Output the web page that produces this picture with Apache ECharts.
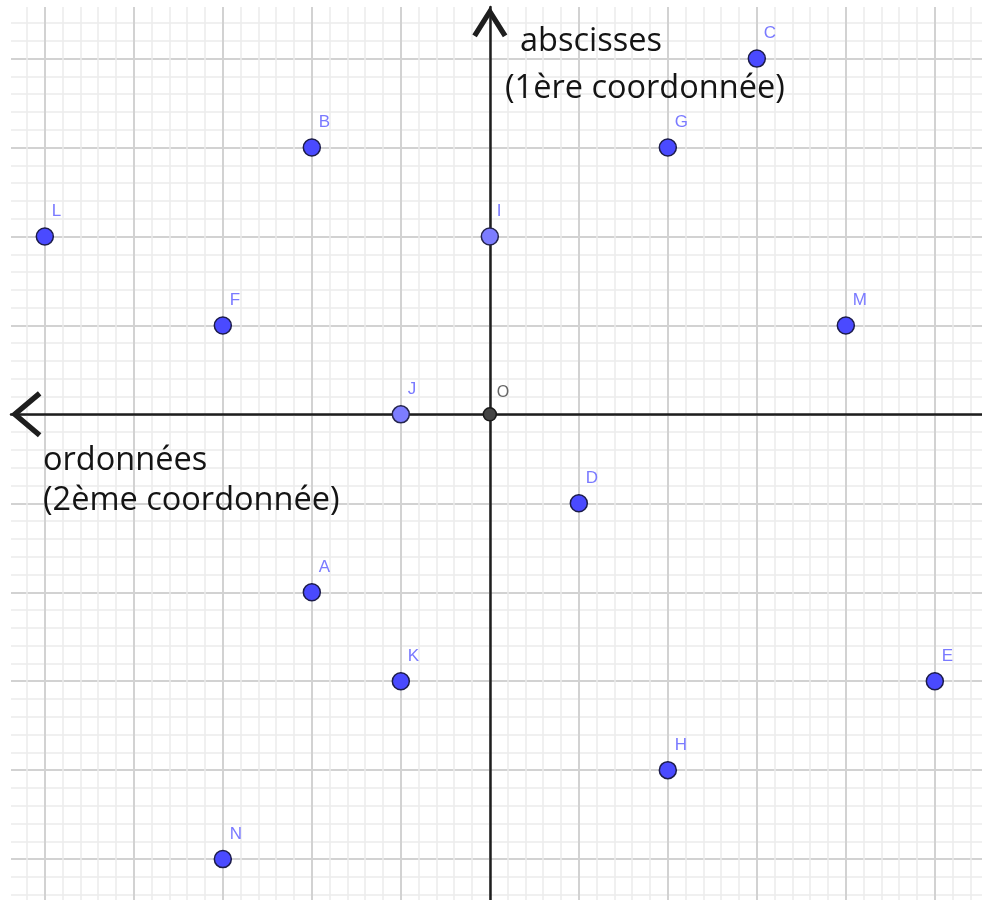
<!DOCTYPE html>
<html>
<head>
<meta charset="utf-8">
<script src="https://cdn.jsdelivr.net/npm/echarts@6/dist/echarts.min.js"></script>
<style>
  html, body { margin: 0; background: #fff; }
  #main { width: 982px; height: 900px; }
</style>
</head>
<body>
<div id="main"></div>
<script>
// points du repère (unités de la grille)
const pointNames = ['C', 'B', 'G', 'L', 'F', 'M', 'D', 'A', 'K', 'E', 'H', 'N'];
const pointX = [3, -2, 2, -5, -3, 4, 1, -2, -1, 5, 2, -3];
const pointY = [4, 3, 3, 2, 1, 1, -1, -2, -3, -3, -4, -5];

// points sur les axes (couleur plus claire)
const axisPointNames = ['I', 'J'];
const axisPointX = [0, -1];
const axisPointY = [2, 0];

// origine
const originNames = ['O'];
const originX = [0];
const originY = [0];

// étendue visible
const xRange = [-5.38, 5.53];
const yRange = [-5.46, 4.58];

const chart = echarts.init(document.getElementById('main'));

function toData(names, xs, ys) {
    return names.map(function (n, i) {
        return { name: n, value: [xs[i], ys[i]] };
    });
}

// chevrons ouverts (pointe vers le haut), l'aspect est conservé par echarts
const chevronWide = 'path://M72.5,0 L145,86 L132,97 L72.5,26.3 L13,97 L0,86 Z';
const chevronNarrow = 'path://M56.5,0 L113,90 L98.6,99 L56.5,32 L14.4,99 L0,90 Z';

const labelStyle = {
    show: true,
    position: 'inside',
    align: 'left',
    verticalAlign: 'middle',
    offset: [7, -25],
    formatter: '{b}',
    fontFamily: 'Liberation Sans',
    fontSize: 17,
    color: '#7a7aff'
};

function gridAxis(range, arrow, arrowSize, arrowOffset) {
    return {
        type: 'value',
        min: range[0],
        max: range[1],
        splitNumber: 10,
        axisLabel: { show: false },
        axisTick: { show: false },
        axisLine: {
            show: true,
            onZero: true,
            symbol: arrow,
            symbolSize: arrowSize,
            symbolOffset: arrowOffset,
            lineStyle: { color: '#1e1e1e', width: 2.5 }
        },
        splitLine: {
            show: true,
            showMinLine: false,
            showMaxLine: false,
            lineStyle: { color: '#d2d2d2', width: 2 }
        },
        minorTick: { show: false, splitNumber: 5 },
        minorSplitLine: {
            show: true,
            lineStyle: { color: '#ececec', width: 1.5 }
        }
    };
}

const textStyle = { fontFamily: 'Open Sans', fontSize: 32.5, fill: '#141414', align: 'left', verticalAlign: 'middle' };

const option = {
    backgroundColor: '#fff',
    animation: false,
    grid: { left: 11, top: 7, right: 0, bottom: 0, containLabel: false },
    xAxis: gridAxis(xRange, [chevronWide, 'none'], [46, 31], [15, 0]),
    yAxis: gridAxis(yRange, ['none', chevronNarrow], [35, 31], [0, -15]),
    series: [
        {
            type: 'scatter',
            data: toData(pointNames, pointX, pointY),
            symbolSize: 17,
            itemStyle: { color: '#4a4aff', borderColor: '#1c1c4a', borderWidth: 1.5, opacity: 1 },
            label: labelStyle,
            z: 5
        },
        {
            type: 'scatter',
            data: toData(axisPointNames, axisPointX, axisPointY),
            symbolSize: 17,
            itemStyle: { color: '#7d7dff', borderColor: '#25254d', borderWidth: 1.5, opacity: 1 },
            label: labelStyle,
            z: 5
        },
        {
            type: 'scatter',
            data: toData(originNames, originX, originY),
            symbolSize: 13,
            itemStyle: { color: '#444444', borderColor: '#1a1a1a', borderWidth: 1.5, opacity: 1 },
            label: Object.assign({}, labelStyle, { color: '#666666', offset: [7, -22], fontSize: 16 }),
            z: 5
        }
    ],
    graphic: [
        { type: 'text', x: 520, y: 42, z: 10, style: Object.assign({ text: 'abscisses' }, textStyle) },
        { type: 'text', x: 505, y: 89, z: 10, style: Object.assign({ text: '(1ère coordonnée)' }, textStyle) },
        { type: 'text', x: 43, y: 461, z: 10, style: Object.assign({ text: 'ordonnées' }, textStyle) },
        { type: 'text', x: 43, y: 501, z: 10, style: Object.assign({ text: '(2ème coordonnée)' }, textStyle) }
    ]
};

chart.setOption(option);
</script>
</body>
</html>
